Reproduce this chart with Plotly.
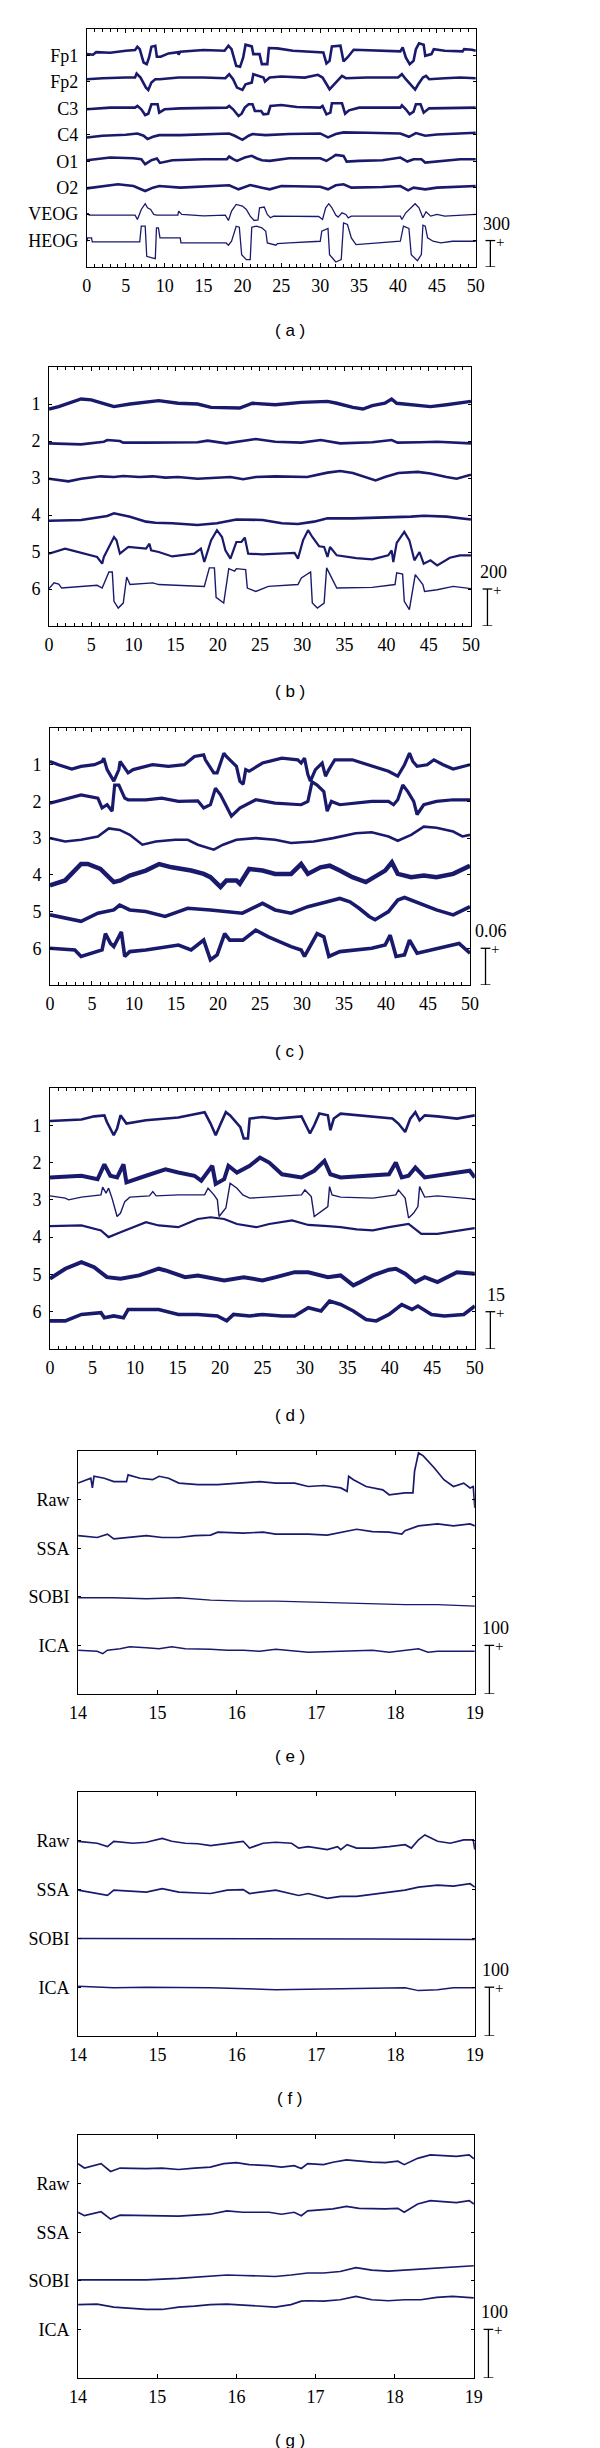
import plotly.graph_objects as go

W, H = 600, 2448
NAVY = "#1a1a6c"
SERIF = "Liberation Serif"
SANS = "Liberation Sans"

# ---------------- panel (a): raw recordings, 0-50 s, bar = 300
A_LABELS = ["Fp1", "Fp2", "C3", "C4", "O1", "O2", "VEOG", "HEOG"]
A_FP1 = [(0, 15), (0.8, 8), (1.2, 38), (3, 30), (5, 53), (6.2, 61), (6.5, 99), (6.8, 72), (7.3, -80), (7.7, -99),
         (8.0, -23), (8.3, 99), (8.8, 110), (9.0, -15), (9.5, -15), (10.5, 23), (11.7, 38), (11.8, 8), (12, 42),
         (15, 61), (17.7, 53), (18.2, 110), (18.6, 72), (19.2, -118), (19.7, -129), (20.1, -23), (20.4, 122),
         (21.2, 103), (21.4, 15), (22.2, 15), (22.5, -99), (23.2, -99), (23.4, 84), (24.5, 80), (26.5, 53),
         (30, 42), (30.4, 34), (30.8, -91), (31.2, -61), (31.5, 103), (32.6, 110), (33.0, -68), (33.5, -23),
         (34.3, 65), (37, 53), (40.3, 46), (40.6, 91), (41.0, -23), (41.5, -99), (42.0, -61), (42.3, 72),
         (42.7, 137), (43.3, 122), (43.5, -4), (44.3, 15), (44.6, 72), (46, 53), (48.3, 46), (48.5, 72),
         (49.5, 65), (50, 53)]
A_FP2 = [(0, 30), (2, 42), (5, 49), (6.2, 49), (6.4, 95), (6.9, 49), (7.6, -65), (7.9, -91), (8.3, -8), (8.8, 30),
         (9.35, 30), (11.8, 49), (15, 49), (17.8, 42), (18.3, 87), (18.8, 30), (19.3, -65), (20.0, -91),
         (20.4, -27), (21.2, -8), (21.4, 87), (22.0, 68), (22.7, 49), (22.9, 4), (23.5, 49), (25, 61), (28, 49),
         (29.7, 80), (30.3, 49), (31.2, -84), (32.0, -8), (32.8, 68), (33.3, 42), (36, 49), (40.0, 49),
         (40.5, 87), (41.0, 30), (42.2, -87), (42.6, -27), (43.2, 49), (43.6, 68), (44.0, 30), (46, 42),
         (48, 49), (50, 42)]
A_C3 = [(0, -11), (3, 8), (6.2, 8), (6.5, 27), (7.0, -11), (7.5, -76), (7.9, -61), (8.3, 46), (9.1, 46),
        (9.3, -49), (10, -11), (12, 0), (18.0, 8), (18.3, 27), (18.8, -11), (19.5, -87), (19.9, -61), (20.3, 8),
        (20.8, 46), (21.3, 46), (21.6, -30), (22.4, -30), (22.7, -68), (23.3, -61), (23.6, 27), (25, 38),
        (27, 15), (30.0, 8), (30.3, 27), (30.8, -68), (31.3, -49), (31.5, 57), (32.8, 57), (33.2, -61),
        (33.7, -23), (35, 8), (40.3, 8), (40.5, 34), (41.0, -11), (41.5, -68), (42.0, -38), (42.3, 46),
        (42.9, 46), (43.3, -49), (44.0, 0), (47, 8), (50, 8)]
A_C4 = [(0, -30), (2, -11), (5, 0), (6.5, 15), (7.3, -11), (7.8, -49), (8.5, -23), (9.3, -4), (12, -4),
        (15, 8), (18.3, 15), (19.0, -11), (20.0, -57), (20.8, -11), (21.3, 8), (23, -4), (26, 8), (30, 15),
        (31.0, -30), (32, 8), (33, 27), (36, 23), (40.3, 15), (41.4, -23), (42.3, 19), (43.5, -11), (45, 4),
        (50, 23)]
A_O1 = [(0, 11), (3, 42), (6, 34), (7.0, 23), (7.5, -34), (8.3, 11), (9.0, 30), (9.4, -19), (11, 11), (15, 23),
        (18.0, 23), (18.3, 53), (18.8, 23), (19.3, 4), (20.3, 42), (21.2, 61), (21.8, 34), (22.5, 11),
        (23.5, 4), (26, 34), (30, 34), (30.8, 4), (31.5, 42), (32.0, 72), (33.0, 61), (33.4, -4), (35, 4),
        (38, 11), (40.3, 42), (41.2, -4), (42.0, 23), (43.0, 23), (43.5, -15), (45, -4), (48, 23), (50, 23)]
A_O2 = [(0, -8), (2, 19), (4, 38), (6, 19), (7.5, -38), (8.5, 0), (9.3, 19), (12, 0), (18.3, 27), (19.5, -19),
        (20.5, 19), (21.0, 30), (22.5, 0), (23.5, -19), (25, 19), (30, 11), (31.0, -19), (32, 27), (33, 38),
        (34, 0), (38, 8), (40.3, 19), (41.3, -30), (42.0, 0), (43.5, -19), (45, 0), (50, 19)]
A_VEOG = [(0, 4), (0.2, 4), (0.3, -11), (6.2, -11), (6.5, -61), (7.0, 53), (7.5, 118), (7.8, 72), (8.2, 53),
          (8.6, -4), (9.0, -11), (11.7, -11), (11.8, 34), (12.2, -4), (15, -19), (17.8, -11), (18.2, -72),
          (18.6, 34), (19.2, 110), (20.0, 91), (20.5, 53), (21.0, -23), (21.5, -72), (22.0, -65), (22.2, 72),
          (22.8, 80), (23.2, -4), (23.6, -42), (24, -23), (29.8, -27), (30.3, -61), (30.7, 72), (31.1, 118),
          (31.5, 72), (32.0, -11), (32.3, -34), (32.8, 15), (33.3, -4), (33.6, -42), (34, -23), (40.3, -23),
          (40.5, -61), (41.0, 15), (41.8, 80), (42.2, 118), (42.7, 72), (43.2, -42), (43.6, 27), (44.2, -23),
          (45, -4), (46, -23), (50, -4)]
A_HEOG = [(0, -8), (0.1, 30), (0.6, 30), (0.7, -15), (6.8, -15), (7.0, 163), (7.5, 163), (7.7, -179),
          (8.5, -198), (8.8, -205), (8.95, 144), (9.2, 144), (9.4, 30), (12.0, 30), (12.1, -27), (17.9, -27),
          (18.2, -53), (18.6, -8), (19.2, 163), (19.6, 152), (19.9, -160), (20.5, -217), (21.0, -217),
          (21.2, 152), (21.8, 163), (22.5, 144), (23.0, 106), (23.2, -27), (24.3, -53), (24.5, -34), (26, -27),
          (30, -8), (30.2, 106), (31.0, 137), (31.2, -160), (32.0, -243), (32.7, -217), (33.0, 201),
          (33.5, 182), (33.7, 106), (34, 30), (34.6, -46), (40.3, -8), (40.7, 163), (41.4, 137), (41.7, -160),
          (42.5, -228), (43.0, -160), (43.2, 175), (43.5, 163), (43.8, 30), (44.5, -8), (45.5, -27), (47, -8),
          (50, -8)]

# ---------------- panel (b): components 1-6, bar = 200
B_LABELS = ["1", "2", "3", "4", "5", "6"]
B_1 = [(0, -27), (1.15, -14), (3.8, 27), (5.0, 22), (7.3, -9), (7.7, -14), (9.6, 0), (13, 18), (15.3, 4),
       (17.6, 0), (19.2, -18), (22.6, -22), (24.1, 4), (26.8, -4), (29.9, 9), (33, 14), (34.1, 4), (36, -18),
       (37.2, -27), (38.3, -9), (39.8, 4), (40.6, 27), (41.2, 4), (43.3, -4), (45.2, -14), (47.1, -4), (50, 14)]
B_2 = [(0, -13), (3.8, -18), (6.5, -4), (6.9, 5), (8.4, 0), (8.8, -9), (11.5, -9), (15.3, -7), (17.6, -7),
       (18.8, 2), (21, -13), (24.5, 11), (26.8, -4), (29.9, -9), (32.2, 5), (34.5, -13), (38.3, -7), (40.6, 5),
       (41.3, -9), (44, -7), (46, -4), (50, -13)]
B_3 = [(0, -4), (2.3, -18), (3.8, -4), (6.1, 9), (7.7, 5), (8.8, 11), (10.7, 5), (12.3, 9), (13.8, 2),
       (15.3, 5), (17.6, -4), (19.9, 2), (21.5, 5), (23, -7), (24.5, 5), (26.8, 9), (30.6, 5), (33, 29),
       (34.5, 38), (36, 27), (37.5, 5), (38.7, -13), (39.8, 5), (41.4, 27), (43.7, 33), (45.2, 24), (47.1, 5),
       (48.3, -4), (50, 18)]
B_4 = [(0, -31), (3.8, -27), (6.9, -5), (7.7, 9), (9.6, -9), (11.5, -36), (12.6, -42), (14.6, -45),
       (17.6, -54), (19.9, -45), (22.2, -24), (25.3, -27), (27.6, -45), (29.5, -49), (31.4, -36), (33, -18),
       (36, -18), (39.1, -14), (40.6, -13), (42.1, -13), (42.9, -9), (44.4, -4), (47.1, -9), (50, -24)]
B_5 = [(0, -9), (1.9, 18), (2.7, 9), (5.7, -27), (6.3, -63), (6.5, -27), (7.1, 27), (7.7, 81), (8.0, 63),
       (8.4, -9), (9.4, 27), (11.5, 18), (11.9, 45), (12.1, 9), (13.0, 0), (14.6, -24), (17.2, -9), (18.0, 18),
       (18.4, -54), (19.2, 63), (19.9, 118), (20.5, 81), (20.9, 9), (21.5, -36), (22.2, 54), (22.8, 54),
       (23.2, 78), (23.6, -9), (25.3, -13), (29.1, -5), (29.5, -36), (30.1, 63), (30.7, 118), (31.2, 81),
       (32.0, 31), (32.6, 27), (33.0, -27), (33.3, 27), (34.1, -18), (36.4, -33), (38.3, -40), (40.2, -18),
       (40.6, 9), (40.8, -54), (41.2, 49), (42.1, 109), (42.7, 63), (43.3, -45), (43.9, 0), (44.4, -63),
       (45.2, -45), (46.0, -72), (47.5, -31), (48.7, -18), (50, -18)]
B_6 = [(0, 2), (0.6, 33), (1.15, 27), (1.5, 5), (5.7, 20), (6.3, 5), (7.1, 92), (7.5, 92), (7.7, -67),
       (8.2, -103), (8.8, -76), (9.2, 65), (9.6, 24), (12.3, 33), (13, 24), (18.4, 14), (19.0, 114),
       (19.6, 114), (19.8, -45), (20.7, -76), (21.3, 110), (22.0, 96), (22.2, 110), (23.3, 105), (23.5, 5),
       (24.5, -13), (26, 14), (29.5, 24), (29.9, 60), (31.0, 92), (31.2, -76), (31.8, -103), (32.6, -76),
       (32.9, 114), (33.3, 78), (34.1, 5), (38.3, 9), (41.0, 24), (41.2, 87), (41.9, 81), (42.1, -67),
       (42.7, -112), (43.4, 78), (44.3, 24), (44.5, -13), (46, -4), (47.9, 14), (50, 2)]

# ---------------- panel (c): components 1-6, bar = 0.06
C_LABELS = ["1", "2", "3", "4", "5", "6"]
C_1 = [(0, 0.0054), (1.0, 0), (2.6, -0.007), (3.7, -0.0027), (5.3, 0), (6.2, 0.0054), (6.4, 0.0107),
       (6.8, -0.008), (7.6, -0.0268), (8.2, -0.008), (8.35, 0.0054), (9.3, -0.0134), (9.9, -0.008),
       (11.4, -0.0027), (12.2, 0), (14.1, -0.0027), (16.0, 0), (17.2, 0.0134), (18.3, 0.016), (18.5, 0.008),
       (19.5, -0.0134), (19.9, -0.0134), (20.3, 0.0027), (20.7, 0.0188), (21.0, 0.0134), (22.2, -0.0027),
       (22.6, -0.0268), (23.0, -0.032), (23.3, -0.008), (23.7, -0.0107), (25.3, 0.0027), (27.6, 0.0107),
       (29.5, 0.008), (29.9, 0.0027), (30.3, 0.0107), (30.7, -0.016), (31.0, -0.0268), (31.6, -0.008),
       (32.4, 0.0027), (32.8, -0.0188), (33.2, -0.008), (33.9, 0.008), (36.0, 0.008), (38.3, -0.0027),
       (40.3, -0.0107), (41.4, -0.0188), (42.2, 0), (42.8, 0.0188), (43.2, 0.0054), (43.7, -0.0027),
       (44.9, 0), (45.7, 0.008), (46.8, 0), (48.0, -0.007), (50, 0)]
C_2 = [(0, -0.0027), (3.7, 0.0107), (5.7, 0.0054), (6.2, -0.0107), (6.8, -0.0054), (7.4, -0.016),
       (7.7, 0.0268), (8.2, 0.0268), (8.9, 0.0054), (9.3, 0.0027), (11.4, 0.0027), (13.3, 0.0054), (15.3, 0),
       (17.6, 0.001), (18.3, -0.0107), (19.1, -0.0054), (19.7, 0.0214), (20.3, 0.0107), (21.0, -0.008),
       (21.6, -0.024), (22.6, -0.0107), (24.5, 0.0027), (26.8, -0.0027), (29.9, -0.0054), (30.7, 0),
       (31.2, 0.032), (31.8, 0.0268), (32.6, 0.016), (33.0, -0.016), (33.5, 0), (34.5, -0.0054), (38.3, 0),
       (40.3, 0), (40.9, -0.0054), (41.4, 0.0027), (42.0, 0.0268), (42.6, 0.016), (43.3, 0), (43.7, -0.0214),
       (44.5, -0.0054), (46.0, 0), (48.0, 0.0027), (50, 0.0027)]
C_3 = [(0, 0), (1.8, -0.0054), (3.7, -0.0027), (5.7, 0.0027), (7.0, 0.016), (8.3, 0.0134), (9.5, 0.0054),
       (11.0, -0.0107), (12.6, -0.0054), (14.9, -0.0027), (16.4, -0.0027), (17.6, -0.0107), (19.5, -0.0188),
       (20.6, -0.0107), (22.2, -0.0027), (24.5, 0), (26.8, -0.0027), (28.7, -0.008), (31.4, -0.0054),
       (33.7, 0), (36.4, 0.008), (38.3, 0.0096), (40.3, 0.0027), (41.4, -0.0043), (43.0, 0.0054),
       (44.5, 0.0188), (46.0, 0.0171), (48.0, 0.0107), (49.1, 0.0027), (50, 0.0054)]
C_4 = [(0, -0.0171), (1.8, -0.0091), (3.7, 0.0177), (4.5, 0.0177), (6.0, 0.0096), (7.6, -0.0118),
       (8.4, -0.0091), (9.5, -0.0011), (11.4, 0.007), (13.0, 0.0177), (14.5, 0.0123), (16.8, 0.007),
       (18.3, 0.0016), (19.1, -0.0038), (20.3, -0.0198), (21.0, -0.0091), (22.2, -0.0091), (22.6, -0.0145),
       (23.7, 0.0096), (25.3, 0.007), (26.8, 0.0016), (28.7, 0.0016), (29.9, 0.0177), (30.7, 0.0016),
       (32.2, 0.0123), (33.3, 0.015), (34.5, 0.007), (36.0, -0.0038), (37.6, -0.0118), (38.3, -0.0064),
       (39.9, 0.007), (40.7, 0.0204), (41.4, 0.0016), (43.0, -0.0038), (44.5, -0.0011), (46.0, -0.0038),
       (48.0, 0.0016), (50, 0.015)]
C_5 = [(0, -0.0054), (3.0, -0.0134), (3.7, -0.016), (5.7, -0.0027), (7.6, 0.0027), (8.3, 0.0107),
       (9.5, 0.0027), (11.4, 0), (13.7, -0.008), (15.3, 0), (16.4, 0.0054), (19.1, 0.0027), (21.4, 0),
       (22.9, -0.0027), (25.3, 0.0134), (26.8, 0.0027), (28.7, -0.0027), (30.7, 0.008), (33.0, 0.016),
       (34.5, 0.0214), (35.7, 0.016), (36.8, 0.0054), (38.0, -0.008), (38.7, -0.0134), (40.3, 0),
       (41.4, 0.0188), (42.2, 0.023), (44.1, 0.0134), (46.0, 0.0027), (48.0, -0.0054), (50, 0.008)]
C_6 = [(0, 0), (2.96, -0.0027), (3.7, -0.0134), (4.9, -0.008), (6.2, -0.0027), (6.6, 0.024), (7.2, 0.008),
       (7.6, 0.0027), (8.5, 0.0268), (8.9, -0.0134), (9.5, -0.0054), (11.4, -0.0027), (15.3, 0.0054),
       (16.8, -0.0027), (18.3, 0.0134), (19.1, -0.0188), (19.9, -0.0107), (20.8, 0.024), (21.4, 0.0134),
       (22.96, 0.0134), (24.5, 0.0295), (26.0, 0.0188), (28.7, 0.0027), (29.9, -0.0027), (30.3, -0.0134),
       (31.8, 0.024), (32.6, 0.0188), (33.2, -0.0134), (34.5, -0.0054), (38.3, 0), (39.9, 0.0054),
       (40.5, 0.0214), (41.2, -0.0134), (42.2, -0.0107), (42.8, 0.0134), (43.7, -0.008), (46.0, 0),
       (48.7, 0.008), (50, -0.008)]

# ---------------- panel (d): components 1-6, bar = 15
D_LABELS = ["1", "2", "3", "4", "5", "6"]
D_1 = [(0, 1.7), (3.7, 2.3), (5.2, 3.6), (6.4, 4.0), (6.7, 1.3), (7.5, -4.0), (7.9, -1.3), (8.3, 4.0),
       (9.0, 0.7), (11.3, 2.0), (15.1, 3.1), (18.2, 5.3), (18.9, 0.7), (19.5, -4.0), (20.1, 0.7), (20.7, 5.3),
       (21.2, 4.0), (22.4, -0.7), (22.8, -5.3), (23.3, -5.3), (23.5, 2.7), (25.0, 3.3), (26.6, 2.7),
       (29.6, 3.6), (30.6, -3.3), (31.1, 0), (31.7, 4.7), (32.7, 4.0), (33.0, -2.0), (33.4, 2.7), (34.2, 4.7),
       (38.0, 3.3), (40.3, 2.7), (41.0, 0.7), (41.8, -2.7), (42.4, 2.7), (43.0, 5.3), (43.5, 2.0), (44.1, 4.0),
       (45.6, 3.6), (47.9, 2.7), (50, 4.0)]
D_2 = [(0, -6.0), (3.7, -5.3), (5.6, -6.7), (6.4, -0.7), (7.1, -5.3), (7.9, -6.0), (8.65, -0.7), (9.0, -8.0),
       (11.3, -5.3), (13.6, -2.7), (15.1, -4.0), (17.0, -5.3), (17.8, -7.3), (18.6, -3.3), (19.1, -1.3),
       (19.5, -8.6), (20.5, -6.7), (21.0, -1.3), (22.0, -4.0), (23.5, -1.3), (24.7, 2.0), (25.8, 0),
       (27.3, -4.7), (29.6, -6.0), (31.1, -3.3), (32.3, 0.7), (33.0, -4.7), (34.2, -6.0), (38.0, -5.3),
       (39.9, -4.7), (40.7, 0), (41.4, -6.0), (42.2, -5.3), (43.0, -2.0), (44.1, -6.0), (45.6, -5.3),
       (49.4, -3.3), (50, -6.0)]
D_3 = [(0, 1.6), (1.8, 0.7), (2.2, 0), (3.7, 1.1), (6.0, 2.0), (6.2, 5.1), (6.6, 2.7), (6.9, 4.7), (7.3, 0.7),
       (7.9, -6.7), (8.3, -5.3), (8.8, -0.7), (9.4, 1.1), (11.7, 1.6), (12.1, 3.3), (12.5, 1.6), (15.1, 2.0),
       (18.2, 2.0), (18.6, 4.7), (19.3, 2.0), (19.7, 0), (19.9, -6.7), (20.7, -3.3), (21.2, 6.7), (22.0, 4.7),
       (22.7, 2.0), (23.5, 0.7), (25.8, 1.1), (29.6, 2.0), (30.0, 4.0), (30.75, 1.3), (31.1, -6.7),
       (31.7, -5.3), (32.7, -2.7), (32.9, 5.3), (33.2, 2.0), (34.2, 1.1), (38.0, 0.7), (40.7, 2.0), (41.0, 4.0),
       (41.8, 0.7), (42.2, -7.3), (42.8, -5.3), (43.3, -2.7), (43.5, 5.3), (44.1, 1.1), (45.6, 1.6), (50, 0.3)]
D_4 = [(0, 4.4), (3.7, 4.7), (6.0, 2.7), (6.9, 0), (8.3, 2.0), (11.3, 6.0), (12.8, 4.7), (15.1, 4.0),
       (17.4, 7.3), (18.9, 8.0), (20.5, 7.3), (22.0, 5.3), (24.3, 4.0), (25.8, 5.3), (28.5, 6.7), (30.4, 4.9),
       (32.7, 4.4), (34.2, 4.0), (36.1, 3.1), (38.0, 2.7), (39.9, 4.0), (42.2, 5.3), (43.7, 1.3), (45.6, 1.3),
       (49.4, 3.3), (50, 3.6)]
D_5 = [(0, -1.7), (1.8, 2.3), (3.7, 4.9), (5.2, 2.9), (6.7, -1.1), (8.3, -1.7), (10.5, -0.4), (12.8, 2.3),
       (13.6, 1.6), (15.9, -1.1), (17.4, -0.4), (20.5, -2.4), (22.8, -1.1), (25.0, -2.4), (26.6, -1.1),
       (28.8, 0.9), (30.4, 0.9), (32.7, -1.1), (34.2, -0.4), (35.7, -4.4), (36.5, -3.1), (38.0, -0.4),
       (39.9, 1.9), (40.7, 2.3), (41.8, 0.3), (43.0, -3.1), (44.1, -1.1), (45.6, -3.1), (47.9, 0.9), (50, 0.3)]
D_6 = [(0, -3.7), (1.8, -3.7), (3.7, -1.1), (6.0, -0.4), (6.4, -2.4), (7.5, -1.7), (8.65, -2.4), (9.2, 0.9),
       (11.3, 0.9), (12.8, 0.9), (15.1, -1.1), (17.4, -1.1), (19.7, -1.7), (20.8, -3.7), (21.6, -1.1),
       (23.5, -1.7), (25.0, -1.1), (27.3, -1.7), (28.8, -1.7), (30.4, 1.6), (31.9, 0.3), (32.9, 4.3),
       (34.2, 2.9), (35.7, 0.3), (37.2, -3.1), (38.4, -3.7), (39.9, -1.1), (41.4, 2.9), (42.6, 0.9),
       (43.3, 2.3), (44.9, -1.1), (46.4, -1.7), (48.7, -1.1), (50, 2.3)]

# ---------------- panels (e)-(g): 14-19 s, bar = 100
M_LABELS = ["Raw", "SSA", "SOBI", "ICA"]
E_RAW = [(14, 34), (14.16, 44), (14.18, 24), (14.2, 48), (14.33, 44), (14.45, 37), (14.61, 37), (14.63, 51),
         (14.78, 44), (14.94, 41), (15.02, 48), (15.14, 44), (15.27, 34), (15.51, 31), (15.76, 31), (16.08, 34),
         (16.29, 37), (16.49, 34), (16.73, 34), (16.9, 27), (17.1, 29), (17.31, 24), (17.39, 17), (17.41, 48),
         (17.47, 41), (17.63, 27), (17.84, 20), (17.92, 10), (18.12, 14), (18.22, 14), (18.24, 58), (18.29, 96),
         (18.35, 90), (18.49, 65), (18.61, 41), (18.73, 27), (18.86, 34), (18.94, 24), (18.98, 27), (19, -17)]
E_SSA = [(14, 26), (14.24, 22), (14.37, 29), (14.45, 19), (14.86, 26), (15.06, 22), (15.27, 22), (15.47, 26),
         (15.67, 27), (15.76, 33), (16.08, 31), (16.33, 33), (16.49, 29), (16.9, 29), (17.14, 27), (17.31, 33),
         (17.51, 39), (17.71, 34), (17.92, 33), (18.08, 29), (18.12, 36), (18.29, 46), (18.53, 50), (18.73, 46),
         (18.94, 50), (19, 46)]
E_SOBI = [(14, -2), (14.45, -2), (14.86, -4), (15.27, -2), (15.67, -7), (16.08, -9), (16.49, -9), (16.9, -11),
          (17.31, -12), (17.71, -14), (18.12, -16), (18.53, -16), (19, -19)]
E_ICA = [(14, -10), (14.24, -12), (14.31, -17), (14.37, -10), (14.53, -7), (14.65, -3), (14.86, -5),
         (15.02, -7), (15.18, -3), (15.35, -7), (15.67, -8), (15.88, -10), (16.08, -10), (16.29, -12),
         (16.49, -8), (16.9, -14), (17.31, -12), (17.71, -10), (17.92, -14), (18.12, -10), (18.29, -7),
         (18.41, -14), (18.53, -12), (19, -12)]

F_RAW = [(14, -1), (14.24, -5), (14.37, -12), (14.45, -1), (14.69, -5), (14.86, -3), (15.06, 5), (15.18, -1),
         (15.35, -5), (15.51, -6), (15.67, -10), (15.88, -5), (16.08, -1), (16.16, -15), (16.33, -5),
         (16.49, -3), (16.69, -5), (16.78, -15), (16.9, -12), (17.14, -18), (17.27, -12), (17.31, -18),
         (17.39, -8), (17.51, -15), (17.71, -15), (17.92, -12), (18.12, -8), (18.2, -15), (18.29, 2),
         (18.37, 12), (18.45, 5), (18.53, -1), (18.69, -5), (18.86, 2), (18.98, 2), (19, -18)]
F_SSA = [(14, -1), (14.37, -12), (14.45, -1), (14.86, -5), (15.06, 2), (15.27, -5), (15.51, -7), (15.67, -8),
         (15.88, -1), (16.08, 0), (16.16, -8), (16.49, -1), (16.78, -12), (16.9, -8), (17.14, -18),
         (17.31, -14), (17.51, -14), (17.71, -10), (17.92, -5), (18.12, -1), (18.29, 5), (18.53, 9),
         (18.73, 7), (18.94, 12), (19, 5)]
F_SOBI = [(14, 0), (16.49, 0), (17.71, -1), (19, -2)]
F_ICA = [(14, 2), (14.45, -1), (14.86, 0), (15.67, -1), (16.49, -5), (17.31, -3), (17.92, -1), (18.12, -1),
         (18.29, -7), (18.53, -5), (18.73, -1), (19, -1)]

G_RAW = [(14, 41), (14.08, 32), (14.29, 41), (14.41, 25), (14.53, 32), (14.86, 31), (15.06, 32), (15.27, 29),
         (15.47, 32), (15.67, 34), (15.84, 41), (16.0, 43), (16.16, 39), (16.41, 37), (16.57, 34), (16.73, 37),
         (16.82, 31), (16.9, 41), (17.1, 39), (17.22, 44), (17.39, 49), (17.55, 46), (17.71, 44), (17.88, 43),
         (18.04, 46), (18.12, 39), (18.29, 52), (18.45, 59), (18.61, 58), (18.78, 56), (18.94, 59), (19, 51)]
G_SSA = [(14, 41), (14.08, 34), (14.29, 42), (14.41, 27), (14.53, 35), (14.86, 34), (15.27, 33), (15.67, 37),
         (15.88, 44), (16.08, 41), (16.41, 41), (16.57, 37), (16.73, 41), (16.82, 34), (16.9, 44), (17.22, 48),
         (17.39, 53), (17.55, 49), (17.71, 48), (17.88, 48), (18.04, 49), (18.12, 41), (18.29, 58), (18.45, 65),
         (18.61, 63), (18.78, 61), (18.94, 65), (19, 58)]
G_SOBI = [(14, 2), (14.45, 2), (14.86, 2), (15.27, 5), (15.67, 9), (15.88, 12), (16.08, 11), (16.49, 9),
          (16.69, 12), (16.9, 16), (17.1, 16), (17.31, 19), (17.51, 27), (17.71, 22), (17.92, 20), (18.12, 22),
          (18.53, 26), (18.78, 29), (19, 31)]
G_ICA = [(14, 51), (14.24, 52), (14.45, 46), (14.65, 44), (14.86, 41), (15.06, 41), (15.27, 46), (15.47, 48),
         (15.67, 51), (15.88, 52), (16.08, 50), (16.29, 48), (16.49, 46), (16.69, 51), (16.82, 58), (16.9, 59),
         (17.1, 58), (17.31, 61), (17.51, 68), (17.71, 61), (17.92, 59), (18.12, 61), (18.33, 61), (18.53, 66),
         (18.73, 68), (19, 65)]

# panel layout in pixels: box = (left, top, right, bottom)
PANELS = [
    dict(tag="( a )", tag_y=323, box=(72, 21, 473, 259), xr=(0, 50), bar_x=488, bar="300",
         labels=A_LABELS, traces=[A_FP1, A_FP2, A_C3, A_C4, A_O1, A_O2, A_VEOG, A_HEOG],
         widths=[2.6, 2.6, 2.6, 2.6, 2.6, 2.6, 1.3, 1.3], scale=300),
    dict(tag="( b )", tag_y=683, box=(33, 359, 468, 618), xr=(0, 50), bar_x=485, bar="200",
         labels=B_LABELS, traces=[B_1, B_2, B_3, B_4, B_5, B_6],
         widths=[3.4, 2.6, 2.6, 2.6, 2.2, 1.4], scale=200),
    dict(tag="( c )", tag_y=1043, box=(34, 720, 467, 977), xr=(0, 50), bar_x=483, bar="0.06",
         labels=C_LABELS, traces=[C_1, C_2, C_3, C_4, C_5, C_6],
         widths=[3.2, 3.2, 2.6, 4.5, 3.6, 3.6], scale=0.06),
    dict(tag="( d )", tag_y=1407, box=(34, 1080, 472, 1341), xr=(0, 50), bar_x=488, bar="15",
         labels=D_LABELS, traces=[D_1, D_2, D_3, D_4, D_5, D_6],
         widths=[2.6, 4.0, 1.4, 2.2, 4.0, 3.6], scale=15),
    dict(tag="( e )", tag_y=1748, box=(63, 1443, 472, 1686), xr=(14, 19), bar_x=487, bar="100",
         labels=M_LABELS, traces=[E_RAW, E_SSA, E_SOBI, E_ICA],
         widths=[1.7, 1.7, 1.3, 1.5], scale=100),
    dict(tag="( f )", tag_y=2090, box=(63, 1784, 472, 2028), xr=(14, 19), bar_x=487, bar="100",
         labels=M_LABELS, traces=[F_RAW, F_SSA, F_SOBI, F_ICA],
         widths=[1.7, 1.7, 1.5, 1.5], scale=100),
    dict(tag="( g )", tag_y=2432, box=(63, 2127, 471, 2370), xr=(14, 19), bar_x=486, bar="100",
         labels=M_LABELS, traces=[G_RAW, G_SSA, G_SOBI, G_ICA],
         widths=[1.7, 1.7, 1.6, 1.7], scale=100),
]

fig = go.Figure()
layout = dict(width=W, height=H, autosize=False, margin=dict(l=0, r=0, t=0, b=0),
              paper_bgcolor="white", plot_bgcolor="white", showlegend=False,
              shapes=[], annotations=[])

for i, p in enumerate(PANELS, start=1):
    l, t, r, b = p["box"]
    n = len(p["labels"])
    xa, ya = "x%d" % i, "y%d" % i
    long_run = p["xr"][1] - p["xr"][0] > 10

    for k, (series, w) in enumerate(zip(p["traces"], p["widths"]), start=1):
        fig.add_trace(go.Scatter(
            x=[s[0] for s in series],
            y=[k - s[1] / p["scale"] for s in series],
            mode="lines", line=dict(color=NAVY, width=w),
            xaxis=xa, yaxis=ya, hoverinfo="skip"))

    xaxis = dict(domain=[l / W, r / W], anchor=ya, range=list(p["xr"]),
                 showline=True, linecolor="black", linewidth=1, mirror="ticks",
                 ticks="inside", ticklen=4, tickcolor="black", tickwidth=1,
                 showgrid=False, zeroline=False, ticklabelstandoff=2,
                 tickfont=dict(family=SERIF, size=18, color="black"))
    if long_run:
        xaxis.update(tick0=0, dtick=5,
                     minor=dict(dtick=1, ticks="inside", ticklen=3, tickcolor="black", showgrid=False))
    else:
        xaxis.update(tick0=14, dtick=1)
    yaxis = dict(domain=[1 - b / H, 1 - t / H], anchor=xa, range=[n + 1, 0],
                 tickmode="array", tickvals=list(range(1, n + 1)), ticktext=p["labels"],
                 showline=True, linecolor="black", linewidth=1, mirror="ticks",
                 ticks="inside", ticklen=3, tickcolor="black",
                 showgrid=False, zeroline=False, ticklabelstandoff=4,
                 tickfont=dict(family=SERIF, size=18, color="black"))
    layout["xaxis" if i == 1 else "xaxis%d" % i] = xaxis
    layout["yaxis" if i == 1 else "yaxis%d" % i] = yaxis

    # scale bar: one channel spacing == p["bar"] units
    bx = p["bar_x"] / W
    cap = 5 / W
    bar_line = dict(color="black", width=1.3)
    layout["shapes"] += [
        dict(type="line", xref="paper", yref=ya, x0=bx, x1=bx, y0=n, y1=n + 1, line=bar_line),
        dict(type="line", xref="paper", yref=ya, x0=bx - cap, x1=bx + cap, y0=n, y1=n, line=bar_line),
        dict(type="line", xref="paper", yref=ya, x0=bx - cap, x1=bx + cap, y0=n + 1, y1=n + 1, line=bar_line),
    ]
    layout["annotations"] += [
        dict(text=p["bar"], xref="paper", yref=ya, x=(p["bar_x"] + 6) / W, y=n, yshift=17,
             showarrow=False, xanchor="center", yanchor="middle",
             font=dict(family=SERIF, size=18, color="black")),
        dict(text="+", xref="paper", yref=ya, x=(p["bar_x"] + 10) / W, y=n, yshift=-1,
             showarrow=False, xanchor="center", yanchor="middle",
             font=dict(family=SERIF, size=15, color="black")),
        dict(text=p["tag"], xref="paper", yref="paper", x=281 / W, y=1 - p["tag_y"] / H,
             showarrow=False, xanchor="center", yanchor="middle",
             font=dict(family=SANS, size=17, color="black")),
    ]

fig.update_layout(**layout)
fig.write_html("out.html")
